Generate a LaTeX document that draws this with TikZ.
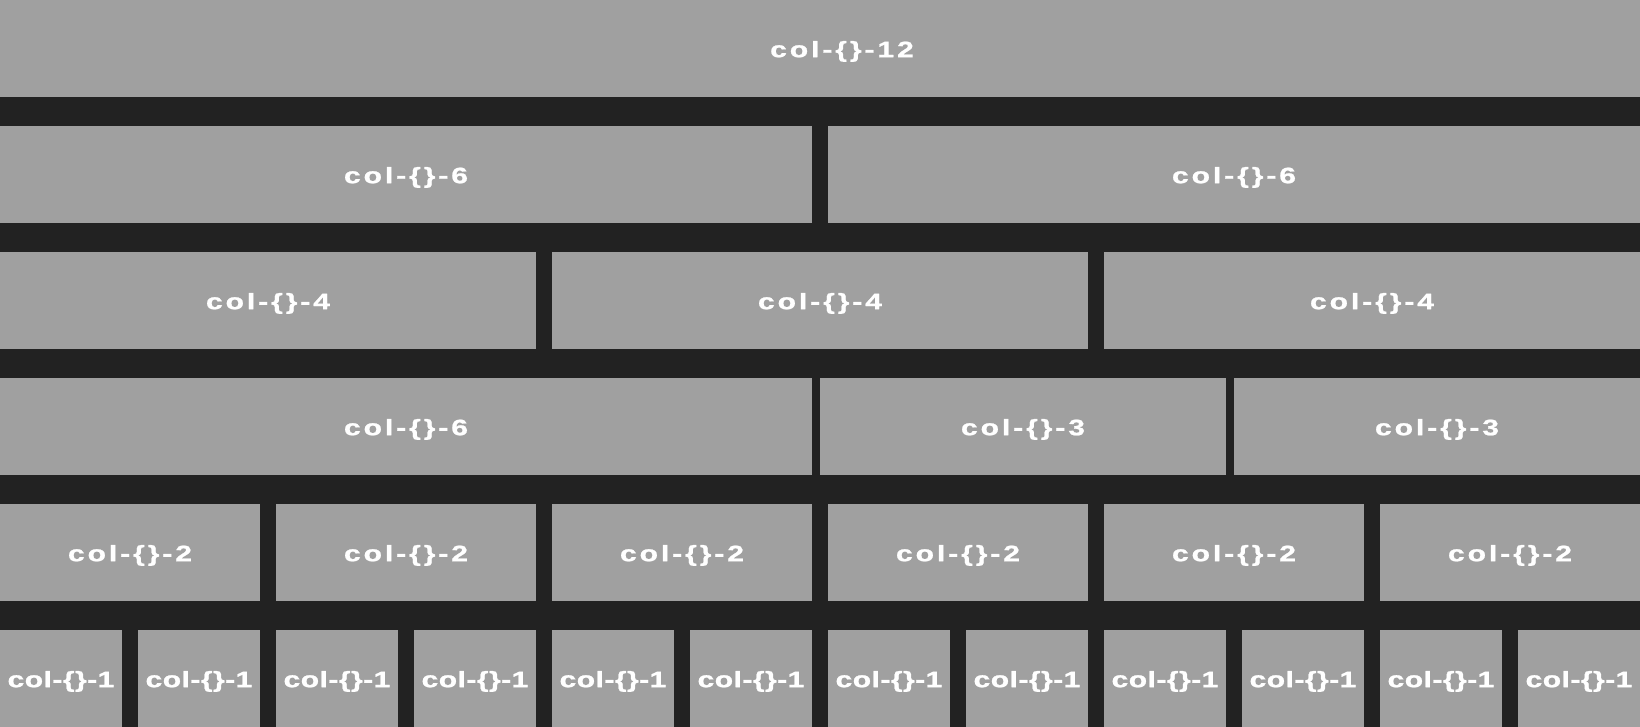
\documentclass[tikz,border=0pt]{standalone}
\usepackage{fontspec}
\setmainfont{Liberation Sans}
\newfontfamily\colfont{Liberation Sans}[FakeStretch=1.35,FakeBold=1,LetterSpace=13]
\newfontfamily\colfonttight{Liberation Sans}[FakeStretch=1.35,FakeBold=1,LetterSpace=2]
\usetikzlibrary{positioning}
\definecolor{gridbg}{HTML}{222222}
\definecolor{gridcell}{HTML}{A0A0A0}
\tikzset{
  cell/.style={fill=gridcell,text=white,anchor=north west,inner sep=0pt,
    outer sep=0pt,minimum height=97pt,text height=17.4pt,text depth=0pt,
    font=\colfont\bfseries\fontsize{22.3}{27}\selectfont},
  cellone/.style={cell,minimum width=122pt,
    font=\colfonttight\bfseries\fontsize{22.3}{27}\selectfont}
}

\begin{document}
\begin{tikzpicture}[x=1pt,y=-1pt]
  \fill[gridbg] (0,0) rectangle (1640,727);
  \useasboundingbox (0,0) rectangle (1640,727);

  \node (twelve) [cell,minimum width=1640pt] at (0,0) {\hspace*{44pt}col-\{\}-12};

  \node (sixa) [cell,minimum width=812pt] at (0,126) {col-\{\}-6};
  \node (sixb) [cell,minimum width=812pt] at (828,126) {col-\{\}-6};

  \node (foura) [cell,minimum width=536pt] at (0,252) {col-\{\}-4};
  \node (fourb) [cell,minimum width=536pt] at (552,252) {col-\{\}-4};
  \node (fourc) [cell,minimum width=536pt] at (1104,252) {col-\{\}-4};

  \node (sixc) [cell,minimum width=812pt] at (0,378) {col-\{\}-6};
  \node (threea) [cell,minimum width=406pt] at (820,378) {col-\{\}-3};
  \node (threeb) [cell,minimum width=406pt] at (1234,378) {col-\{\}-3};

  \node (twoa) [cell,minimum width=260pt] at (0,504) {col-\{\}-2};
  \node (twob) [cell,minimum width=260pt] at (276,504) {col-\{\}-2};
  \node (twoc) [cell,minimum width=260pt] at (552,504) {col-\{\}-2};
  \node (twod) [cell,minimum width=260pt] at (828,504) {col-\{\}-2};
  \node (twoe) [cell,minimum width=260pt] at (1104,504) {col-\{\}-2};
  \node (twof) [cell,minimum width=260pt] at (1380,504) {col-\{\}-2};

  \node (onea) [cellone] at (0,630) {col-\{\}-1};
  \node (oneb) [cellone] at (138,630) {col-\{\}-1};
  \node (onec) [cellone] at (276,630) {col-\{\}-1};
  \node (oned) [cellone] at (414,630) {col-\{\}-1};
  \node (onee) [cellone] at (552,630) {col-\{\}-1};
  \node (onef) [cellone] at (690,630) {col-\{\}-1};
  \node (oneg) [cellone] at (828,630) {col-\{\}-1};
  \node (oneh) [cellone] at (966,630) {col-\{\}-1};
  \node (onei) [cellone] at (1104,630) {col-\{\}-1};
  \node (onej) [cellone] at (1242,630) {col-\{\}-1};
  \node (onek) [cellone] at (1380,630) {col-\{\}-1};
  \node (onel) [cellone] at (1518,630) {col-\{\}-1};
\end{tikzpicture}
\end{document}
